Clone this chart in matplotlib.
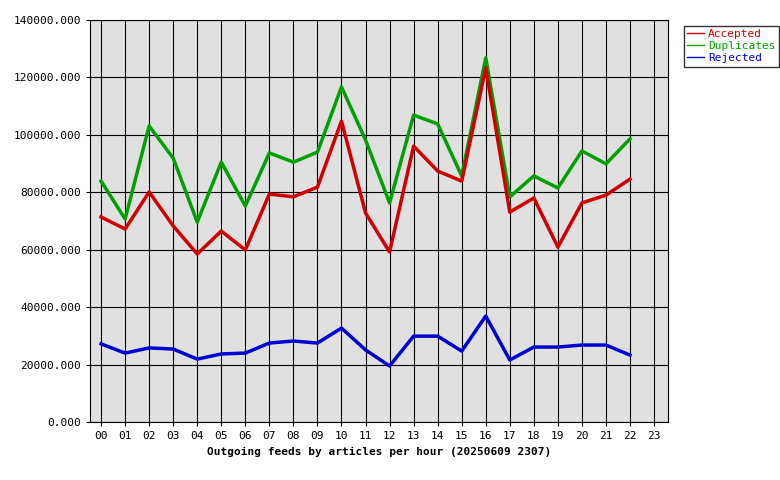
import matplotlib
matplotlib.use("Agg")
import matplotlib.pyplot as plt

hours = [f"{h:02d}" for h in range(24)]
accepted = [71400, 67200, 80100, 68300, 58500, 66500, 59900, 79400, 78400, 81800, 104800, 72800,
            59200, 96100, 87400, 83900, 123300, 73100, 78000, 60900, 76300, 79000, 84600]
duplicates = [83900, 70700, 103100, 91900, 69600, 90500, 75200, 93700, 90500, 94000, 116700, 98200,
              76300, 106900, 103800, 85700, 126800, 78400, 85700, 81500, 94400, 89900, 98600]
rejected = [27200, 24000, 25800, 25400, 21900, 23700, 24000, 27500, 28200, 27500, 32700, 25100,
            19500, 29900, 29900, 24700, 36900, 21600, 26100, 26100, 26800, 26800, 23300]
yticks = list(range(0, 140001, 20000))

plt.rcParams['font.family'] = ['DejaVu Sans Mono']
fig = plt.figure(figsize=(7.8, 4.8), dpi=100)
ax = fig.add_axes([90/780, 58/480, 578/780, 402/480])
ax.set_facecolor('#e0e0e0')

x = list(range(len(accepted)))
ax.plot(x, duplicates, color='#00a000', linewidth=2.5, label='Duplicates', zorder=3)
ax.plot(x, accepted, color='#d00000', linewidth=2.5, label='Accepted', zorder=4)
ax.plot(x, rejected, color='#0000d0', linewidth=2.5, label='Rejected', zorder=3)

ax.set_xlim(-0.46, 23.58)
ax.set_ylim(0, 140000)
ax.set_xticks(range(24))
ax.set_xticklabels(hours, fontsize=8)
ax.set_yticks(yticks)
ax.set_yticklabels([f"{v}.000" for v in yticks], fontsize=8)
ax.grid(True, color='black', linewidth=0.8)
ax.set_axisbelow(True)
ax.tick_params(length=3)
ax.set_xlabel('Outgoing feeds by articles per hour (20250609 2307)', fontsize=8, fontweight='bold')

handles, labels = ax.get_legend_handles_labels()
order = [1, 0, 2]
leg = fig.legend([handles[i] for i in order], [labels[i] for i in order],
                 loc='upper left', bbox_to_anchor=(678/780, 1 - 20/480), fontsize=8,
                 frameon=True, fancybox=False, edgecolor='black', handlelength=1.5,
                 borderpad=0.3, labelspacing=0.2, handletextpad=0.4)
for line in leg.get_lines():
    line.set_linewidth(1)
for text, h in zip(leg.get_texts(), [handles[i] for i in order]):
    text.set_color(h.get_color())

fig.savefig('out.png')
